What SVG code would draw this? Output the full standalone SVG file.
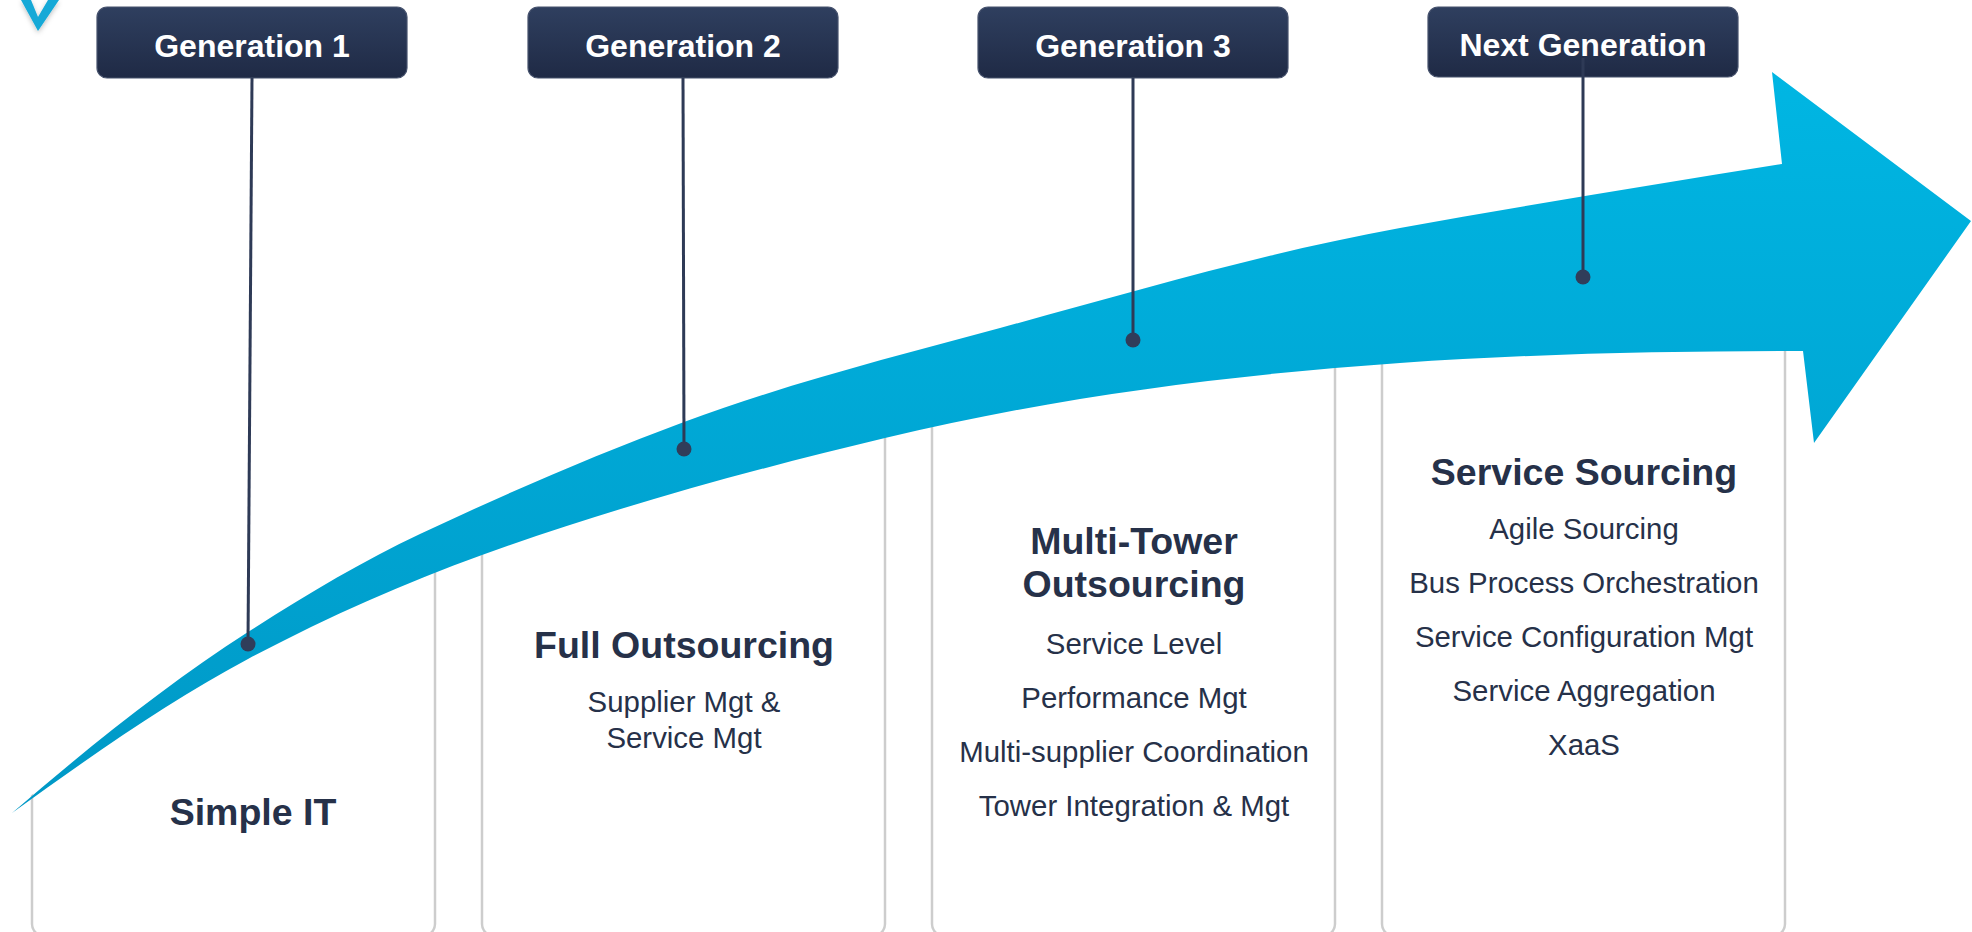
<svg xmlns="http://www.w3.org/2000/svg" width="1972" height="932" viewBox="0 0 1972 932">
  <defs>
    <linearGradient id="arrowFill" gradientUnits="userSpaceOnUse" x1="0" y1="72" x2="0" y2="813">
      <stop offset="0" stop-color="#00b6e3"/>
      <stop offset="1" stop-color="#0098c6"/>
    </linearGradient>
    <linearGradient id="boxFill" x1="0" y1="0" x2="0" y2="1">
      <stop offset="0" stop-color="#2f3f5f"/>
      <stop offset="1" stop-color="#1f2a45"/>
    </linearGradient>
    <filter id="softShadow" x="-50%" y="-50%" width="200%" height="200%">
      <feDropShadow dx="0" dy="2" stdDeviation="2.5" flood-color="#000" flood-opacity="0.25"/>
    </filter>
    <!-- region below the lower edge of the sweeping arrow -->
    <clipPath id="belowArrow">
      <path transform="translate(0,-4)" d="M 12,813 C 90.7,756.3 169.3,700.7 248,659 C 326,617.7 404,583.1 482,555 C 616.3,506.6 750.7,470.2 885,438 C 1056.7,396.8 1228.3,375 1400,363 C 1534.3,353.6 1668.7,351 1803,351 L 1972,351 L 1972,940 L 0,940 L 0,813 Z"/>
    </clipPath>
    <style>
      .panel { fill: #ffffff; stroke: #cdcdcd; stroke-width: 2.5; }
      .box { fill: url(#boxFill); stroke: #46526d; stroke-width: 1.2; }
      .boxText { font-family: "Liberation Sans", Arial, sans-serif; font-weight: bold; font-size: 32px; fill: #ffffff; text-anchor: middle; }
      .title { font-family: "Liberation Sans", Arial, sans-serif; font-weight: bold; font-size: 37.5px; fill: #263149; text-anchor: middle; }
      .item { font-family: "Liberation Sans", Arial, sans-serif; font-size: 29.4px; fill: #263149; text-anchor: middle; }
      .lead { stroke: #2e3a56; stroke-width: 3; fill: none; }
      .dot { fill: #303d5a; }
    </style>
  </defs>

  <rect width="1972" height="932" fill="#ffffff"/>

  <!-- corner chevron -->
  <path d="M21,0 L38,31 L59,0 L48,0 L38,17 L31,0 Z" fill="#14a9d7" filter="url(#softShadow)"/>

  <!-- stage panels -->
  <g clip-path="url(#belowArrow)">
    <g id="panel-simple-it"><rect class="panel" x="32" y="200" width="403" height="736" rx="12"/></g>
    <g id="panel-full-outsourcing"><rect class="panel" x="482" y="200" width="403" height="736" rx="12"/></g>
    <g id="panel-multi-tower"><rect class="panel" x="932" y="200" width="403" height="736" rx="12"/></g>
    <g id="panel-service-sourcing"><rect class="panel" x="1382" y="200" width="403" height="736" rx="12"/></g>
  </g>

  <!-- sweeping arrow -->
  <path id="growth-arrow" fill="url(#arrowFill)" d="M 12,813 C 90.7,745.3 169.3,682.4 248,632 C 305.3,595.3 362.7,560.9 420,534 C 508,492.6 596,454.6 684,422 C 789.3,383 894.7,356.4 1000,328 C 1133.3,292 1266.7,252 1400,228 C 1527.3,205.1 1654.7,184.4 1782,164 L 1772,72 L 1971,221 L 1814,443 L 1803,351 C 1668.7,351 1534.3,353.6 1400,363 C 1228.3,375 1056.7,396.8 885,438 C 750.7,470.2 616.3,506.6 482,555 C 404,583.1 326,617.7 248,659 C 169.3,700.7 90.7,756.3 12,813 Z"/>

  <!-- generation boxes -->
  <g id="gen-1">
    <rect class="box" x="97" y="7" width="310" height="71" rx="10"/>
    <text class="boxText" x="252" y="57">Generation 1</text>
  </g>
  <g id="gen-2">
    <rect class="box" x="528" y="7" width="310" height="71" rx="10"/>
    <text class="boxText" x="683" y="57">Generation 2</text>
  </g>
  <g id="gen-3">
    <rect class="box" x="978" y="7" width="310" height="71" rx="10"/>
    <text class="boxText" x="1133" y="57">Generation 3</text>
  </g>
  <g id="gen-next">
    <rect class="box" x="1428" y="7" width="310" height="70" rx="10"/>
    <text class="boxText" x="1583" y="56">Next Generation</text>
  </g>

  <!-- leader lines from boxes to the arrow -->
  <g id="connectors">
    <line class="lead" x1="252" y1="78" x2="248" y2="644"/>
    <circle class="dot" cx="248" cy="644" r="7.5"/>
    <line class="lead" x1="683" y1="78" x2="684" y2="449"/>
    <circle class="dot" cx="684" cy="449" r="7.5"/>
    <line class="lead" x1="1133" y1="78" x2="1133" y2="340"/>
    <circle class="dot" cx="1133" cy="340" r="7.5"/>
    <line class="lead" x1="1583" y1="58" x2="1583" y2="277" stroke="#3a4868"/>
    <circle class="dot" cx="1583" cy="277" r="7.5"/>
  </g>

  <!-- panel texts -->
  <g id="text-simple-it">
    <text class="title" x="253" y="825">Simple IT</text>
  </g>
  <g id="text-full-outsourcing">
    <text class="title" x="684" y="658">Full Outsourcing</text>
    <text class="item" x="684" y="712">Supplier Mgt &amp;</text>
    <text class="item" x="684" y="748">Service Mgt</text>
  </g>
  <g id="text-multi-tower">
    <text class="title" x="1134" y="554">Multi-Tower</text>
    <text class="title" x="1134" y="597">Outsourcing</text>
    <text class="item" x="1134" y="654">Service Level</text>
    <text class="item" x="1134" y="708">Performance Mgt</text>
    <text class="item" x="1134" y="762">Multi-supplier Coordination</text>
    <text class="item" x="1134" y="816">Tower Integration &amp; Mgt</text>
  </g>
  <g id="text-service-sourcing">
    <text class="title" x="1584" y="485">Service Sourcing</text>
    <text class="item" x="1584" y="539">Agile Sourcing</text>
    <text class="item" x="1584" y="593">Bus Process Orchestration</text>
    <text class="item" x="1584" y="647">Service Configuration Mgt</text>
    <text class="item" x="1584" y="701">Service Aggregation</text>
    <text class="item" x="1584" y="755">XaaS</text>
  </g>
</svg>
